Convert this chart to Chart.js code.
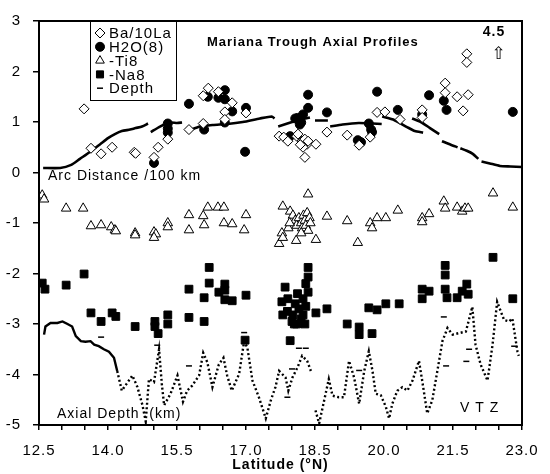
<!DOCTYPE html>
<html><head><meta charset="utf-8">
<script src="https://cdn.jsdelivr.net/npm/chart.js@4/dist/chart.umd.min.js"></script>
<style>html,body{margin:0;padding:0;background:#fff;overflow:hidden}</style>
</head><body>
<canvas id="c" width="550" height="474"></canvas>
<script>
// ---- tick labels ----
const xTickMarks = [12.5,13,13.5,14,14.5,15,15.5,16,16.5,17,17.5,18,18.5,19,19.5,20,20.5,21,21.5,22,22.5,23];
const xLabelValues = [12.5,14,15.5,17,18.5,20,21.5,23];
const xTickLabels = ['12.5','14.0','15.5','17.0','18.5','20.0','21.5','23.0'];
const yTickValues = [-5,-4,-3,-2,-1,0,1,2,3];
const yTickLabels = ['-5','-4','-3','-2','-1','0','1','2','3'];

// ---- series (latitude, value) ----
const baLa = [[13.48,1.26],[13.63,0.48],[13.85,0.37],[14.09,0.50],[14.57,0.40],[14.60,0.38],[15.0,0.30],[15.09,0.50],[15.30,0.66],[15.76,0.85],[16.07,0.97],[16.07,1.52],[16.18,1.67],[16.40,1.60],[16.70,1.38],[16.54,1.20],[16.54,1.05],[17.0,1.18],[17.72,0.72],[17.82,0.70],[17.91,0.62],[18.10,0.72],[18.13,0.76],[18.22,0.62],[18.28,0.66],[18.33,0.56],[18.24,0.50],[18.18,0.55],[18.35,0.62],[18.52,0.56],[18.28,0.30],[18.76,0.80],[19.20,0.74],[19.46,0.54],[19.70,0.70],[19.85,1.19],[20.02,1.20],[20.35,1.05],[20.83,1.24],[20.83,1.09],[21.33,1.77],[21.33,1.58],[21.59,1.50],[21.83,1.54],[21.72,1.22],[21.80,2.35],[21.80,2.18]];
const h2o8 = [[15.0,0.19],[15.30,0.97],[15.30,0.87],[15.30,0.79],[15.76,1.36],[16.09,0.85],[16.17,1.50],[16.40,1.48],[16.54,1.63],[16.54,1.45],[16.70,1.21],[16.54,0.99],[17.0,1.28],[16.98,0.41],[17.96,0.72],[18.07,1.07],[18.12,1.08],[18.24,1.15],[18.20,0.99],[18.17,0.95],[18.35,1.28],[18.35,1.54],[18.76,1.19],[19.43,0.64],[19.50,0.60],[19.67,0.97],[19.72,0.85],[19.74,0.80],[19.85,1.60],[20.30,1.24],[20.83,1.15],[20.98,1.53],[21.30,1.42],[21.36,1.24],[22.80,1.20]];
const ti8 = [[12.57,-0.45],[12.61,-0.53],[13.09,-0.71],[13.46,-0.71],[13.63,-1.06],[13.85,-1.04],[14.07,-1.08],[14.15,-1.14],[14.17,-1.16],[14.59,-1.20],[14.59,-1.24],[15.0,-1.18],[15.04,-1.22],[15.0,-1.29],[15.30,-1.0],[15.30,-1.08],[15.76,-0.84],[15.76,-1.14],[16.07,-0.86],[16.09,-1.04],[16.17,-0.69],[16.39,-0.69],[16.52,-0.69],[16.52,-1.0],[16.70,-1.02],[17.0,-0.84],[16.96,-1.14],[17.72,-1.41],[17.78,-1.20],[17.80,-1.29],[17.80,-0.67],[17.96,-0.77],[18.09,-1.35],[18.35,-0.43],[18.52,-1.33],[18.76,-0.87],[19.20,-0.96],[19.43,-1.39],[19.70,-1.0],[19.74,-1.10],[19.85,-0.90],[20.04,-0.90],[20.30,-0.75],[20.83,-0.90],[20.83,-0.98],[20.98,-0.82],[21.30,-0.57],[21.33,-0.71],[21.59,-0.69],[21.70,-0.77],[21.76,-0.71],[21.83,-0.71],[22.37,-0.41],[22.80,-0.69],[18.02,-0.85],[18.07,-0.95],[18.10,-1.05],[18.15,-0.90],[18.20,-1.00],[18.22,-1.10],[18.25,-0.85],[18.28,-0.95],[18.30,-1.05],[18.33,-0.80],[18.35,-1.15],[18.38,-0.90],[18.40,-1.00],[18.20,-1.20],[17.92,-1.10],[17.95,-1.00]];
const na8 = [[12.57,-2.19],[12.63,-2.31],[13.09,-2.23],[13.48,-2.01],[13.63,-2.78],[13.85,-2.95],[14.09,-2.78],[14.17,-2.85],[14.59,-3.05],[15.02,-2.95],[15.02,-3.05],[15.09,-3.19],[15.30,-2.82],[15.30,-3.0],[15.76,-2.31],[15.76,-2.87],[16.09,-2.48],[16.09,-2.95],[16.20,-1.88],[16.20,-2.19],[16.41,-2.37],[16.54,-2.21],[16.54,-2.33],[16.54,-2.52],[16.70,-2.54],[17.0,-2.43],[16.98,-3.32],[18.35,-1.88],[18.35,-2.07],[18.35,-2.37],[17.85,-2.27],[17.91,-2.50],[17.78,-2.56],[18.24,-2.50],[18.07,-2.60],[17.80,-2.82],[18.02,-2.82],[18.24,-2.82],[18.10,-3.0],[18.28,-3.0],[17.96,-3.33],[18.52,-2.78],[18.76,-2.70],[19.20,-3.0],[19.46,-3.06],[19.46,-3.21],[19.74,-3.19],[19.67,-2.68],[19.85,-2.72],[20.04,-2.60],[20.33,-2.60],[20.83,-2.31],[20.83,-2.50],[20.98,-2.35],[21.33,-1.84],[21.33,-2.03],[21.33,-2.31],[21.37,-2.48],[21.59,-2.48],[21.70,-2.35],[21.80,-2.21],[21.83,-2.41],[22.37,-1.68],[22.80,-2.50],[18.15,-2.70],[18.20,-2.90],[18.00,-2.95],[18.30,-2.65],[17.90,-2.75],[18.12,-2.40],[18.30,-2.20],[18.05,-3.00]];
const sampleDepth = [[13.85,-3.26],[15.07,-3.42],[15.76,-3.83],[16.96,-3.17],[18.15,-3.48],[18.30,-3.48],[18.0,-3.89],[17.90,-4.45],[19.46,-3.92],[21.30,-2.86],[21.35,-3.83],[21.85,-3.50],[21.79,-3.74],[22.83,-3.44]];
const arcDistance = [[12.59,0.09],[12.96,0.09],[13.2,0.15],[13.39,0.27],[13.6,0.40],[13.83,0.56],[14.0,0.68],[14.15,0.76],[14.3,0.82],[14.48,0.85],[14.6,0.88],[14.74,0.91],[14.87,0.97],[14.9,null],
 [14.93,0.80],[15.13,0.91],[15.35,0.99],[15.5,0.98],[15.61,0.99],[15.7,null],
 [15.76,0.83],[16.0,0.91],[16.28,0.94],[16.6,0.96],[16.93,1.0],[17.3,1.07],[17.56,1.11],[17.62,1.07],[17.66,null],
 [17.7,0.91],[17.9,0.97],[18.1,1.03],[18.39,1.09],[18.45,null],
 [18.5,1.03],[18.78,1.03],[18.8,null],
 [18.83,0.91],[19.1,0.95],[19.45,0.98],[19.75,0.97],[19.95,0.96],[19.955,null],
 [19.96,1.11],[20.2,1.05],[20.5,0.90],[20.67,0.82],[20.85,0.79],[20.6,null],
 [20.61,1.07],[20.8,1.0],[21.0,0.88],[21.2,0.76],[21.23,null],
 [21.26,0.62],[21.45,0.55],[21.6,0.50],[21.62,null],
 [21.66,0.48],[21.8,0.43],[21.93,0.37],[22.05,0.27],[22.08,null],
 [22.12,0.22],[22.3,0.18],[22.52,0.13],[22.75,0.12],[23.0,0.11]];
const axialDepth = [[12.61,-3.21],[12.64,-3.05],[12.75,-2.98],[12.9,-2.98],[13.01,-2.95],[13.12,-3.0],[13.22,-3.05],[13.3,-3.24],[13.41,-3.34],[13.51,-3.35],[13.62,-3.34],[13.7,-3.41],[13.8,-3.44],[13.91,-3.50],[14.02,-3.55],[14.13,-3.67],[14.2,-3.93],[14.3,-4.32],[14.4,-4.19],[14.53,-4.02],[14.64,-4.25],[14.75,-4.61],[14.82,-4.93],[14.89,-4.09],[15.0,-4.15],[15.11,-3.50],[15.17,-4.19],[15.22,-4.61],[15.36,-4.38],[15.51,-4.02],[15.58,-4.32],[15.63,-4.54],[15.72,-4.32],[15.83,-4.22],[15.98,-4.02],[16.07,-3.57],[16.16,-3.76],[16.27,-4.25],[16.41,-3.80],[16.51,-3.67],[16.59,-4.02],[16.69,-4.32],[16.85,-3.99],[16.96,-3.34],[17.03,-3.47],[17.14,-4.12],[17.28,-4.45],[17.43,-4.87],[17.54,-4.51],[17.64,-4.25],[17.72,-3.93],[17.86,-4.06],[17.92,-4.32],[18.01,-4.06],[18.12,-3.86],[18.22,-3.63],[18.33,-3.73],[18.41,-3.93],[18.46,null],[18.51,-4.71],[18.59,-4.97],[18.7,-4.51],[18.8,-4.09],[18.88,-4.42],[19.02,-4.45],[19.13,-4.45],[19.24,-3.73],[19.35,-4.06],[19.46,-4.58],[19.57,-3.93],[19.67,-3.54],[19.75,-3.93],[19.82,-4.38],[19.93,-4.41],[20.04,-4.64],[20.11,-4.87],[20.18,-4.58],[20.29,-4.32],[20.4,-4.25],[20.51,-4.32],[20.62,-4.12],[20.76,-3.73],[20.83,-4.12],[20.94,-4.77],[21.05,-4.51],[21.16,-3.93],[21.27,-3.34],[21.38,-3.08],[21.49,-3.21],[21.63,-3.18],[21.78,-3.15],[21.92,-2.66],[21.99,-3.41],[22.1,-3.80],[22.25,-4.12],[22.36,-3.41],[22.46,-2.56],[22.61,-2.92],[22.72,-2.95],[22.79,-2.89],[22.9,-3.54],[22.93,-3.63]];

const toXY = a => a.map(p => ({x: p[0], y: p[1]}));
const FONT = "'Liberation Sans', Arial, Helvetica, sans-serif";

const overlay = {
  id: 'overlay',
  beforeDraw(chart) { chart.ctx.letterSpacing = '1px'; },
  afterDatasetsDraw(chart) {
    const ctx = chart.ctx, a = chart.chartArea;
    ctx.save();
    ctx.letterSpacing = '1px';
    ctx.strokeStyle = '#000'; ctx.lineWidth = 2;
    ctx.strokeRect(a.left, a.top, a.right - a.left, a.bottom - a.top);
    // legend box
    ctx.fillStyle = '#fff'; ctx.lineWidth = 1;
    ctx.fillRect(90, 21, 86, 79); ctx.strokeRect(90.5, 21.5, 86, 79);
    const ds = chart.data.datasets.slice(0, 5);
    ctx.font = '15px ' + FONT; ctx.textBaseline = 'middle'; ctx.textAlign = 'left';
    ds.forEach((d, i) => {
      const y = 33 + i * 13.8;
      ctx.save();
      ctx.fillStyle = d.backgroundColor; ctx.strokeStyle = d.borderColor;
      ctx.lineWidth = d.pointBorderWidth || 1;
      Chart.helpers.drawPoint(ctx, {pointStyle: d.pointStyle, radius: d.legendRadius, rotation: 0, borderWidth: ctx.lineWidth}, 100, y);
      ctx.restore();
      ctx.fillStyle = '#000';
      ctx.fillText(d.label, 109, y + 1);
    });
    // titles and notes
    ctx.fillStyle = '#000';
    ctx.font = 'bold 13px ' + FONT; ctx.textAlign = 'left';
    ctx.fillText('Mariana Trough Axial Profiles', 207, 42);
    ctx.font = "bold 14px 'Liberation Sans Narrow', " + FONT; ctx.textAlign = 'center';
    ctx.fillText('4.5', 494, 32);
    ctx.font = "17px 'DejaVu Sans', sans-serif";
    ctx.fillText('\u21E7', 499, 55);
    ctx.font = '14px ' + FONT; ctx.textAlign = 'left';
    ctx.fillText(chart.data.datasets[5].label, 48, 176);
    ctx.fillText(chart.data.datasets[6].label, 57, 414);
    ctx.fillText('V T Z', 460, 408);
    ctx.restore();
  }
};

new Chart(document.getElementById('c'), {
  type: 'scatter',
  data: {
    datasets: [
      {label: 'Ba/10La', data: toXY(baLa), pointStyle: 'rectRot', pointRadius: 5, legendRadius: 5, backgroundColor: '#fff', borderColor: '#000', pointBorderWidth: 1},
      {label: 'H2O(8)', data: toXY(h2o8), pointStyle: 'circle', pointRadius: 4.5, legendRadius: 4.5, backgroundColor: '#000', borderColor: '#000', pointBorderWidth: 1},
      {label: '-Ti8', data: toXY(ti8), pointStyle: 'triangle', pointRadius: 5.5, legendRadius: 5, backgroundColor: '#fff', borderColor: '#000', pointBorderWidth: 1},
      {label: '-Na8', data: toXY(na8), pointStyle: 'rect', pointRadius: 5.5, legendRadius: 5, backgroundColor: '#000', borderColor: '#000', pointBorderWidth: 1},
      {label: 'Depth', data: toXY(sampleDepth), pointStyle: 'line', pointRadius: 3, legendRadius: 3, backgroundColor: '#000', borderColor: '#000', pointBorderWidth: 1.5},
      {label: 'Arc Distance /100 km', data: toXY(arcDistance), showLine: true, spanGaps: false, pointRadius: 0, borderColor: '#000', borderWidth: 2.6, backgroundColor: '#000', tension: 0.2},
      {label: 'Axial Depth  (km)', data: toXY(axialDepth), showLine: true, spanGaps: false, pointRadius: 0, borderColor: '#000', borderWidth: 2.4, backgroundColor: '#000',
        segment: {borderDash: c => (c.p0.parsed.x < 14.15 ? [] : [2, 2.5])}}
    ]
  },
  options: {
    responsive: false, animation: false, devicePixelRatio: 1,
    layout: {padding: {top: 15, right: 28, left: 0, bottom: 0}},
    plugins: {legend: {display: false}, tooltip: {enabled: false}},
    scales: {
      x: {
        type: 'linear', min: 12.5, max: 23,
        afterBuildTicks: s => { s.ticks = xTickMarks.map(v => ({value: v})); },
        afterFit: s => { s.height = 49; },
        ticks: {autoSkip: false, maxRotation: 0, padding: 12, color: '#000', font: {family: FONT, size: 15},
          callback: v => { const i = xLabelValues.findIndex(t => Math.abs(t - v) < 1e-6); return i >= 0 ? xTickLabels[i] : ''; }},
        grid: {drawOnChartArea: false, drawTicks: true, tickLength: 5, color: '#000', lineWidth: 1.5},
        border: {display: true, color: '#000', width: 2},
        title: {display: true, text: 'Latitude (°N)', color: '#000', font: {family: FONT, size: 14, weight: 'bold'}, padding: {top: 0, bottom: 0}}
      },
      y: {
        min: -5, max: 3,
        afterBuildTicks: s => { s.ticks = yTickValues.map(v => ({value: v})); },
        afterFit: s => { s.width = 39; },
        ticks: {padding: 12, color: '#000', font: {family: FONT, size: 15},
          callback: v => { const i = yTickValues.indexOf(v); return i >= 0 ? yTickLabels[i] : ''; }},
        grid: {drawOnChartArea: false, drawTicks: true, tickLength: 6, color: '#000', lineWidth: 1.5},
        border: {display: true, color: '#000', width: 2}
      }
    }
  },
  plugins: [overlay]
});
</script>
</body></html>
